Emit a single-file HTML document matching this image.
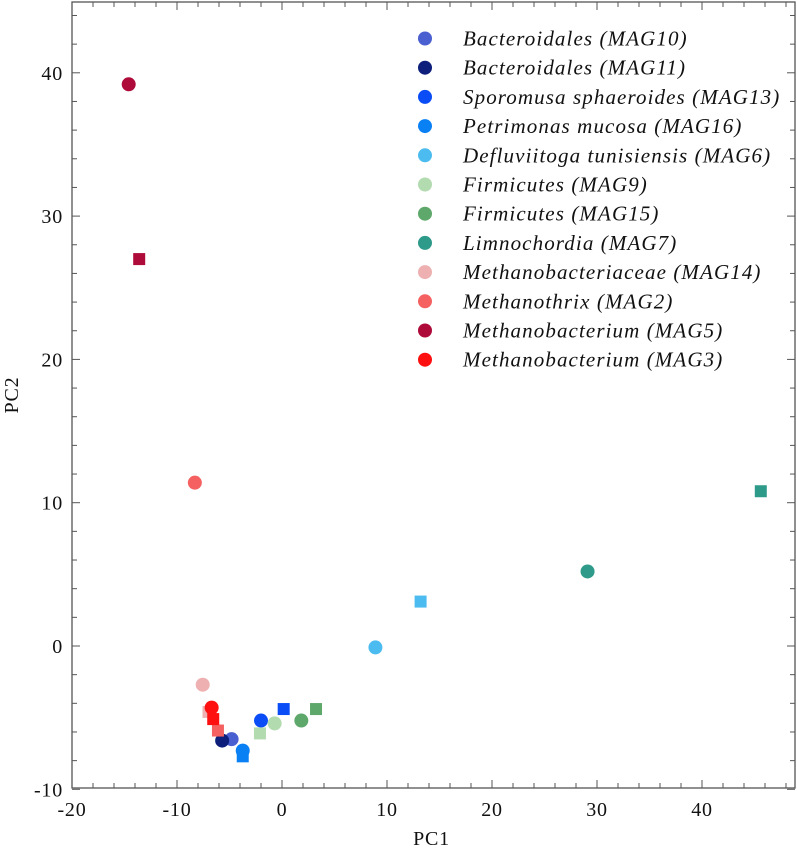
<!DOCTYPE html>
<html><head><meta charset="utf-8"><style>
body{margin:0;background:#fff}
svg text{font-family:"Liberation Serif",serif;fill:#111}
</style></head><body>
<svg id="c" width="797" height="853"></svg>
<script>
const names=["Bacteroidales (MAG10)","Bacteroidales (MAG11)","Sporomusa sphaeroides (MAG13)","Petrimonas mucosa (MAG16)","Defluviitoga tunisiensis (MAG6)","Firmicutes (MAG9)","Firmicutes (MAG15)","Limnochordia (MAG7)","Methanobacteriaceae (MAG14)","Methanothrix (MAG2)","Methanobacterium (MAG5)","Methanobacterium (MAG3)"];
const colors=["#4a5fd0","#0d1f7a","#0a4cf5","#0a80f5","#4cbcf0","#b3dbb0","#5fa86b","#2e9a8a","#eeb0b0","#f56060","#ae0a3a","#ff1010"];
const circX=[-4.8,-5.7,-2.0,-3.74,8.9,-0.7,1.84,29.1,-7.55,-8.3,-14.6,-6.7];
const circY=[-6.5,-6.6,-5.2,-7.3,-0.1,-5.4,-5.2,5.2,-2.7,11.4,39.2,-4.3];
const sqX=[null,null,0.16,-3.74,13.2,-2.1,3.24,45.6,-7.0,-6.1,-13.6,-6.55];
const sqY=[null,null,-4.4,-7.7,3.1,-6.1,-4.4,10.8,-4.6,-5.9,27.0,-5.1];
const xTicks=[-20,-10,0,10,20,30,40];
const yTicks=[-10,0,10,20,30,40];
const L=72,R=795,T=2,B=788;
const X=v=>L+(v+20)*10.5;
const Y=v=>646-v*14.33;
const svg=document.getElementById('c');
const NS="http://www.w3.org/2000/svg";
function mk(t,a,p){const e=document.createElementNS(NS,t);for(const k in a)e.setAttribute(k,a[k]);(p||svg).appendChild(e);return e;}
const frame=mk('rect',{x:L,y:T,width:R-L,height:B-T,fill:'none',stroke:'#555','stroke-width':1.3});


for(let v=-20;v<=48;v+=2){const x=X(v);if(x>R)break;const len=(v%10===0)?8:5;
mk('line',{x1:x,y1:B,x2:x,y2:B-len,stroke:'#555'});mk('line',{x1:x,y1:T,x2:x,y2:T+len,stroke:'#555'});}
for(let v=-10;v<=45;v+=2){const y=Y(v);if(y<T)break;const len=(v%10===0)?8:5;
mk('line',{x1:L,y1:y,x2:L+len,y2:y,stroke:'#555'});mk('line',{x1:R,y1:y,x2:R-len,y2:y,stroke:'#555'});}
xTicks.forEach(v=>{const t=mk('text',{x:X(v),y:B+28,'text-anchor':'middle','font-size':20,'letter-spacing':0.8});t.textContent=v;

});
yTicks.forEach(v=>{const t=mk('text',{x:L-9,y:Y(v)+7,'text-anchor':'end','font-size':20,'letter-spacing':0.8});t.textContent=v;

});
const xt=mk('text',{x:(L+R)/2-2,y:845,'text-anchor':'middle','font-size':20,'letter-spacing':0.8});xt.textContent='PC1';


const yt=mk('text',{x:0,y:0,'text-anchor':'middle','font-size':20,'letter-spacing':0.8,transform:'translate(18,395) rotate(-90)'});yt.textContent='PC2';


for(let i=0;i<names.length;i++){
 if(sqX[i]!==null){const s=mk('rect',{x:X(sqX[i])-6,y:Y(sqY[i])-6,width:12,height:12,fill:colors[i]});
 
 }
 const c=mk('circle',{cx:X(circX[i]),cy:Y(circY[i]),r:7,fill:colors[i]});
 
 
}
names.forEach((n,i)=>{const y=38.5+i*29.2;
 const g=mk('g',{});
 
 
 mk('circle',{cx:425,cy:y,r:7,fill:colors[i]},g);
 const t=mk('text',{x:463,y:y+7,'font-size':21,'font-style':'italic','letter-spacing':1.1},g);t.textContent=n;});
</script>
</body></html>
